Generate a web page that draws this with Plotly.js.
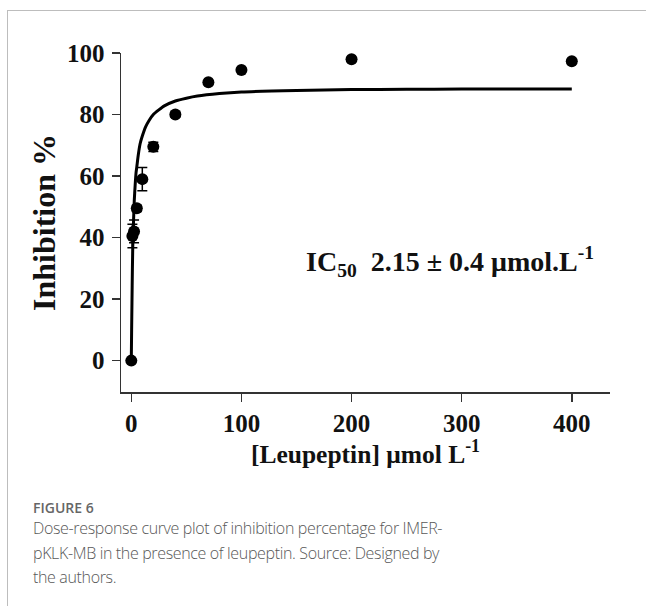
<!DOCTYPE html>
<html>
<head>
<meta charset="utf-8">
<script src="https://cdn.plot.ly/plotly-3.0.1.min.js"></script>
<style>
  html, body { margin: 0; padding: 0; background: #fff; }
  #wrap { position: relative; width: 646px; height: 606px; overflow: hidden; }
  #chart { position: absolute; left: 0; top: 0; width: 646px; height: 606px; }
  #frameTop { position: absolute; left: 7px; top: 10px; width: 640px; height: 0; border-top: 1.5px solid #bdbdbd; }
  #frameLeft { position: absolute; left: 7px; top: 10px; width: 0; height: 600px; border-left: 1.5px solid #bdbdbd; }
  #figLabel { position: absolute; left: 33px; top: 498px; font-family: "Open Sans", sans-serif; font-size: 14px; font-weight: 600; color: #666; }
  #caption { position: absolute; left: 33px; top: 516px; width: 610px; font-family: "Open Sans", sans-serif; font-size: 16px; letter-spacing: -0.35px; line-height: 24.5px; color: #585858; font-weight: 300; white-space: nowrap; }
</style>
</head>
<body>
<div id="wrap">
  <div id="chart"></div>
  <div id="frameTop"></div>
  <div id="frameLeft"></div>
  <div id="figLabel">FIGURE 6</div>
  <div id="caption">Dose-response curve plot of inhibition percentage for IMER-<br>pKLK-MB in the presence of leupeptin. Source: Designed by<br>the authors.</div>
</div>
<script>
// Measured points (concentration, % inhibition, SD)
const concentration = [0, 1, 2.5, 5, 10, 20, 40, 70, 100, 200, 400];
const inhibition    = [0, 40.5, 42, 49.5, 59, 69.5, 80, 90.5, 94.5, 98, 97.3];
const errorSD       = [0, 3.8, 3.7, 1, 3.8, 1.5, 0.8, 0.5, 0.5, 0.5, 0.5];

// Fitted dose-response curve
const curveX = [0, 0.3, 0.6, 1, 1.5, 2, 2.7, 3.5, 4.3, 5, 6.4, 8, 10, 13, 16, 20, 25, 30, 40, 50, 60, 80, 100, 150, 200, 250, 300, 350, 400];
const curveY = [0, 10, 18.7, 30, 40, 45, 52, 57, 61, 63, 67, 70.5, 73, 76, 78, 80, 81.5, 82.8, 84.4, 85.3, 86, 86.8, 87.3, 87.8, 88.1, 88.2, 88.3, 88.3, 88.3];

const xTicks = [0, 100, 200, 300, 400];
const yTicks = [0, 20, 40, 60, 80, 100];

const serif = "'Liberation Serif', 'Times New Roman', serif";

const traces = [
  {
    x: curveX, y: curveY, type: 'scatter', mode: 'lines',
    line: { color: '#000', width: 3, shape: 'spline', smoothing: 0.6 },
    hoverinfo: 'skip', showlegend: false
  },
  {
    x: concentration, y: inhibition, type: 'scatter', mode: 'markers',
    marker: { color: '#000', size: 12 },
    error_y: { type: 'data', array: errorSD, visible: true, color: '#000', thickness: 1.5, width: 5 },
    showlegend: false
  }
];

const layout = {
  width: 646, height: 606,
  margin: { l: 121, r: 36, t: 53, b: 214 },
  paper_bgcolor: '#fff', plot_bgcolor: '#fff',
  showlegend: false,
  xaxis: {
    range: [-9.35, 434.7],
    tickvals: xTicks, ticktext: xTicks.map(String),
    showline: true, linecolor: '#333', linewidth: 1.5,
    ticks: 'outside', ticklen: 8, tickwidth: 1.5, tickcolor: '#333',
    showgrid: false, zeroline: false,
    tickfont: { family: serif, size: 25, color: '#111', weight: 'bold' },
    ticklabelstandoff: 0,
    title: { text: '[Leupeptin] μmol L<sup>-1</sup>', font: { family: serif, size: 25.5, color: '#111', weight: 'bold' }, standoff: 4 }
  },
  yaxis: {
    range: [-10.2, 100],
    tickvals: yTicks, ticktext: yTicks.map(String),
    showline: true, linecolor: '#333', linewidth: 1.5,
    ticks: 'outside', ticklen: 8, tickwidth: 1.5, tickcolor: '#333',
    showgrid: false, zeroline: false,
    tickfont: { family: serif, size: 25, color: '#111', weight: 'bold' },
    ticklabelstandoff: 2,
    title: { text: 'Inhibition %', font: { family: serif, size: 32, color: '#111', weight: 'bold' }, standoff: 2 }
  },
  annotations: [
    {
      xref: 'x', yref: 'y', x: 289.5, y: 32.1, xanchor: 'center', yanchor: 'middle',
      text: 'IC<sub>50</sub>  2.15 ± 0.4 μmol.L<sup>-1</sup>', showarrow: false,
      font: { family: serif, size: 28, color: '#111', weight: 'bold' }
    }
  ]
};

Plotly.newPlot('chart', traces, layout, { displayModeBar: false, staticPlot: true });
</script>
</body>
</html>
